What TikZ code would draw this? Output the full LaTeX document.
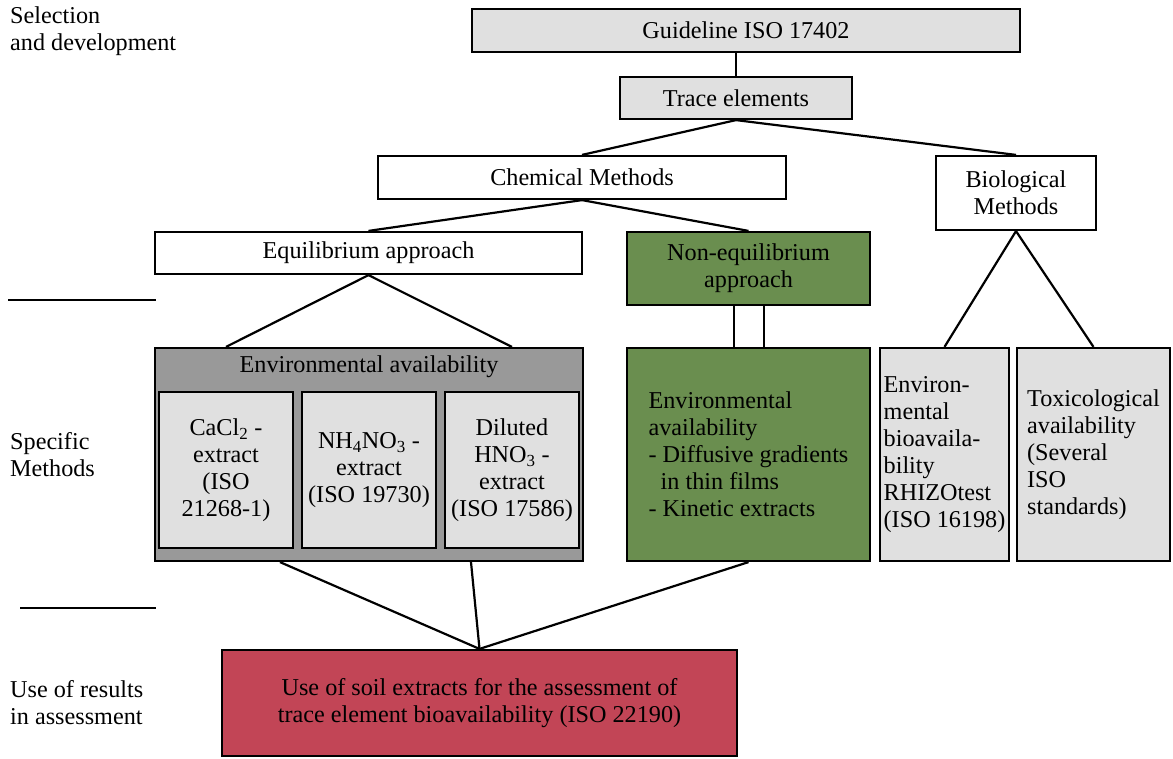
\documentclass[tikz,border=0pt]{standalone}
\usepackage{fontspec}
\setmainfont{Liberation Serif}
\usetikzlibrary{calc}
\definecolor{boxgray}{RGB}{224,224,224}
\definecolor{envgray}{RGB}{153,153,153}
\definecolor{leafgreen}{RGB}{106,142,79}
\definecolor{assessred}{RGB}{194,69,86}
\tikzstyle{box}=[draw, line width=2.2pt, inner sep=0pt, align=center,
  font=\fontsize{24.2}{27}\selectfont]
\tikzstyle{lightbox}=[box, fill=boxgray]
\tikzstyle{plainbox}=[box, fill=white]
\tikzstyle{extract}=[lightbox, minimum width=134, minimum height=156]
\tikzstyle{stage}=[align=left, inner sep=0pt, font=\fontsize{24.2}{27}\selectfont]
\tikzstyle{line}=[draw, line width=2.2pt]

\begin{document}
\begin{tikzpicture}[x=1pt,y=-1pt]
\useasboundingbox (0,0) rectangle (1173,758);

% Stage labels on the left
\node (sel) [stage, anchor=west] at (10,31) {Selection\\and development};
\node (spec) [stage, anchor=west] at (10,455) {Specific\\Methods};
\node (use) [stage, anchor=west] at (10,703) {Use of results\\in assessment};
\path [line] (8,300) -- (156,300);
\path [line] (20,608) -- (156,608);

% Draw diagram elements
\node (guide) [lightbox, minimum width=548, minimum height=43] at (746,30.5) {Guideline ISO 17402};
\node (trace) [lightbox, minimum width=232, minimum height=42] at (736,98) {Trace elements};
\node (chem) [plainbox, minimum width=408, minimum height=43] at (582,177.5) {Chemical Methods};
\node (bio) [plainbox, minimum width=160, minimum height=74] at (1016,193) {Biological\\Methods};
\node (equi) [plainbox, minimum width=427, minimum height=42] at (368.5,253) {Equilibrium approach};
\node (noneq) [box, fill=leafgreen, minimum width=243, minimum height=73] at (748.5,268.5) {Non-equilibrium\\approach};

\node (env) [box, fill=envgray, minimum width=428, minimum height=213] at (369,454.5) {};
\node (envtitle) [font=\fontsize{24.2}{27}\selectfont] at (369,367) {Environmental availability};
\node (cacl) [extract] at (226,470) {CaCl\textsubscript{2} -\\extract\\(ISO\\21268-1)};
\node (nh) [extract] at (369,470) {NH\textsubscript{4}NO\textsubscript{3} -\\extract\\(ISO 19730)};
\node (hno) [extract] at (512,470) {Diluted\\HNO\textsubscript{3} -\\extract\\(ISO 17586)};

\node (green) [box, fill=leafgreen, minimum width=243, minimum height=213, align=left] at (748.5,454.5)
  {Environmental\\availability\\- Diffusive gradients\\\ \ in thin films\\- Kinetic extracts};
\node (envbio) [lightbox, minimum width=129, minimum height=213, align=left] at (944.5,454.5)
  {Environ-\\mental\\bioavaila-\\bility\\RHIZOtest\\(ISO 16198)};
\node (tox) [lightbox, minimum width=153, minimum height=213, align=left] at (1093.5,454.5)
  {Toxicological\\availability\\(Several\\ISO\\standards)};

\node (assess) [box, fill=assessred, minimum width=515, minimum height=106] at (479.5,703)
  {Use of soil extracts for the assessment of\\trace element bioavailability (ISO 22190)};

% Draw lines between elements
\path [line] (trace.north |- guide.south) -- (trace.north);
\path [line] (trace.south) -- (chem.north);
\path [line] (trace.south) -- (bio.north);
\path [line] (chem.south) -- (equi.north);
\path [line] (chem.south) -- (noneq.north);
\path [line] (equi.south) -- (cacl.north |- env.north);
\path [line] (equi.south) -- (hno.north |- env.north);
\path [line] ([xshift=-14.5pt]noneq.south) -- ([xshift=-14.5pt]green.north);
\path [line] ([xshift=15.5pt]noneq.south) -- ([xshift=15.5pt]green.north);
\path [line] (bio.south) -- (envbio.north);
\path [line] (bio.south) -- (tox.north);
\path [line] ([xshift=-89pt]env.south) -- (assess.north);
\path [line] ([xshift=102pt]env.south) -- (assess.north);
\path [line] (green.south) -- (assess.north);

\end{tikzpicture}
\end{document}
